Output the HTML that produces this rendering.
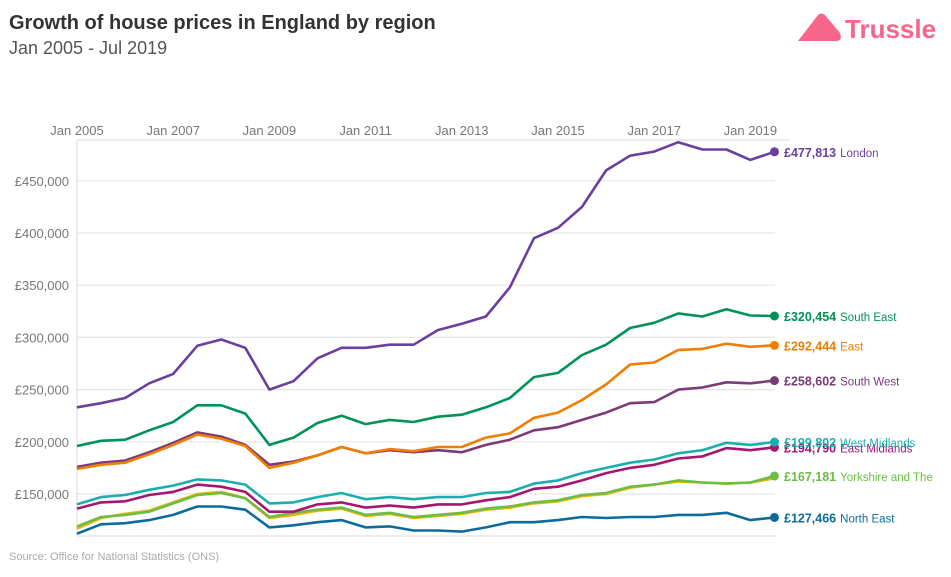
<!DOCTYPE html>
<html><head><meta charset="utf-8"><style>
body{margin:0;background:#fff;width:951px;height:572px;overflow:hidden;font-family:"Liberation Sans",sans-serif}
svg text{font-family:"Liberation Sans",sans-serif}
</style></head><body>
<svg id="chart" width="951" height="572" viewBox="0 0 951 572" xmlns="http://www.w3.org/2000/svg">
<text x="9" y="29" font-size="20" font-weight="bold" fill="#333">Growth of house prices in England by region</text>
<text x="9" y="54" font-size="18" fill="#555">Jan 2005 - Jul 2019</text>
<g>
<path d="M798 41 L818 15 Q821 12 825 15 L840 33 Q843 41 836 41 Z" fill="#f7658b"/>
<text x="845" y="38" font-size="26" font-weight="bold" fill="#f7658b">Trussle</text>
</g>
<text x="9" y="560" font-size="11" fill="#aaa">Source: Office for National Statistics (ONS)</text>
<g id="axes"></g>
<g id="series"></g>
<g id="labels"></g>
</svg>
<script>
const dates=[2005,2005.5,2006,2006.5,2007,2007.5,2008,2008.5,2009,2009.5,2010,2010.5,2011,2011.5,2012,2012.5,2013,2013.5,2014,2014.5,2015,2015.5,2016,2016.5,2017,2017.5,2018,2018.5,2019,2019.5];
const london=[233,237,242,256,265,292,298,290,250,258,280,290,290,293,293,307,313,320,348,395,405,425,460,474,478,487,480,480,470,477.8];
const southEast=[196,201,202,211,219,235,235,227,197,204,218,225,217,221,219,224,226,233,242,262,266,283,293,309,314,323,320,327,321,320.5];
const east=[174,178,180,188,197,207,203,196,175,180,187,195,189,193,191,195,195,204,208,223,228,240,255,274,276,288,289,294,291,292.4];
const southWest=[176,180,182,190,199,209,205,197,178,181,187,195,189,192,190,192,190,197,202,211,214,221,228,237,238,250,252,257,256,258.6];
const westMidlands=[140,147,149,154,158,164,163,159,141,142,147,151,145,147,145,147,147,151,152,160,163,170,175,180,183,189,192,199,197,199.8];
const eastMidlands=[136,142,143,149,152,159,157,152,133,133,140,142,137,139,137,140,140,144,147,155,157,163,170,175,178,184,186,194,192,194.7];
const northWest=[117,127,131,134,142,150,152,146,127,130,134,136,129,131,127,129,131,135,137,141,143,148,150,156,159,162,161,160,161,165];
const yorkshire=[119,128,130,133,141,149,151,146,128,132,135,137,130,132,128,130,132,136,138,142,144,149,151,157,159,163,161,160,161,167.2];
const northEast=[112,121,122,125,130,138,138,135,118,120,123,125,118,119,115,115,114,118,123,123,125,128,127,128,128,130,130,132,125,127.5];
const yTicks=[150000,200000,250000,300000,350000,400000,450000];
const yTickLabels=["£150,000","£200,000","£250,000","£300,000","£350,000","£400,000","£450,000"];
const xTicks=[2005,2007,2009,2011,2013,2015,2017,2019];
const xTickLabels=["Jan 2005","Jan 2007","Jan 2009","Jan 2011","Jan 2013","Jan 2015","Jan 2017","Jan 2019"];
const seriesNames=["London","South East","East","South West","West Midlands","East Midlands","North West","Yorkshire and The","North East"];
const endLabels=["£477,813","£320,454","£292,444","£258,602","£199,802","£194,790","","£167,181","£127,466"];

const NS="http://www.w3.org/2000/svg";
const x=t=>77+(t-2005)*48.1;
const y=v=>494-(v-150)/50*52.2;
const yv=v=>y(v/1000);
const axes=document.getElementById('axes');
function mk(tag,attrs,parent){const e=document.createElementNS(NS,tag);for(const k in attrs)e.setAttribute(k,attrs[k]);parent.appendChild(e);return e;}
// frame
let fr=mk('line',{x1:77,y1:140,x2:790,y2:140,stroke:'#e6e6e6','stroke-width':1.5},axes);


let fl=mk('line',{x1:77,y1:140,x2:77,y2:536,stroke:'#e6e6e6','stroke-width':1.5},axes);


let fb=mk('line',{x1:77,y1:536,x2:775,y2:536,stroke:'#e6e6e6','stroke-width':1.5},axes);


yTicks.forEach((v,i)=>{
  const g=mk('line',{x1:77,x2:775,y1:yv(v),y2:yv(v),stroke:'#e6e6e6','stroke-width':1.2},axes);
  
  
  const t=mk('text',{x:69,y:yv(v)+5,'text-anchor':'end','font-size':13,fill:'#777'},axes);
  t.textContent=yTickLabels[i];
  
  
});
xTicks.forEach((d,i)=>{
  const t=mk('text',{x:x(d),y:135,'text-anchor':'middle','font-size':13,fill:'#777'},axes);
  t.textContent=xTickLabels[i];
  
  
});
const all=[london,southEast,east,southWest,westMidlands,eastMidlands,northWest,yorkshire,northEast];
const colors=["#6b3fa0","#009258","#f07e00","#7b3a78","#1aafae","#a5176e","#f5b300","#6cbd45","#0d6b9b"];
const order=[6,7,8,5,4,3,2,1,0];
const sg=document.getElementById('series');
const lg=document.getElementById('labels');
order.forEach(i=>{
  const vals=all[i];
  const p=mk('path',{d:vals.map((v,j)=>(j?'L':'M')+x(dates[j]).toFixed(1)+' '+y(v).toFixed(1)).join(''),fill:'none',stroke:colors[i],'stroke-width':2.6,'stroke-linejoin':'round'},sg);
  
  
  if(!endLabels[i])return;
  const last=vals[vals.length-1], lx=x(dates[dates.length-1]), ly=y(last);
  const c=mk('circle',{cx:lx,cy:ly,r:4.5,fill:colors[i]},sg);
  
  
  const t=mk('text',{x:784,y:ly+5,'font-size':12.5,fill:colors[i]},lg);
  
  
  const b=mk('tspan',{'font-weight':'bold'},t);b.textContent=endLabels[i];
  const n=mk('tspan',{'font-size':11.5,dx:4},t);n.textContent=seriesNames[i];
});
</script>
</body></html>
